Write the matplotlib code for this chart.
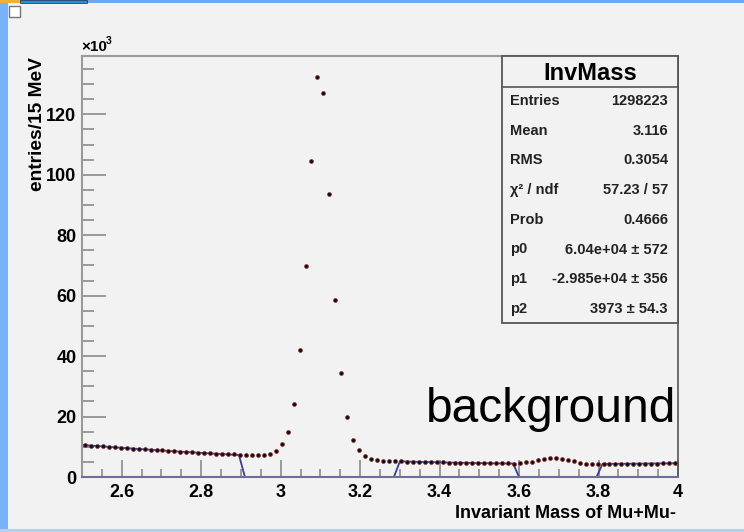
import matplotlib
matplotlib.use('Agg')
import matplotlib.pyplot as plt
import matplotlib.patches as patches
from matplotlib.ticker import MultipleLocator, FormatStrFormatter

plt.rcParams['font.family'] = ['Liberation Sans', 'DejaVu Sans']

W, H = 744, 532

# invariant mass histogram, 15 MeV bins from 2.5 to 4.0, entries in thousands
bin_lo = 2.5
bin_w = 0.015
counts_k = [
    10.55, 10.42, 10.21, 10.12, 9.93, 9.84, 9.66, 9.55, 9.38, 9.30,
    9.12, 9.03, 8.86, 8.79, 8.62, 8.55, 8.38, 8.31, 8.16, 8.09,
    7.94, 7.88, 7.74, 7.68, 7.55, 7.49, 7.40, 7.25, 7.22, 7.24,
    7.30, 7.60, 8.70, 10.8, 14.9, 24.3, 41.9, 69.9, 104.6, 132.4,
    127.2, 93.8, 58.7, 34.4, 20.0, 12.4, 8.8, 6.9, 6.0, 5.6,
    5.4, 5.3, 5.22, 5.15, 5.09, 5.06, 4.98, 4.95, 4.88, 4.86,
    4.80, 4.78, 4.72, 4.71, 4.66, 4.64, 4.60, 4.58, 4.54, 4.53,
    4.49, 4.49, 4.46, 4.60, 4.85, 5.10, 5.60, 6.00, 6.30, 6.35,
    6.10, 5.60, 5.20, 4.70, 4.35, 4.15, 4.15, 4.35, 4.35, 4.37,
    4.36, 4.39, 4.39, 4.42, 4.42, 4.45, 4.46, 4.49, 4.51, 4.54,
]
bin_centers = [bin_lo + bin_w * (i + 0.5) for i in range(len(counts_k))]

# pol2 background fit as drawn (zero inside the excluded windows)
fit_x = [2.5, 2.6, 2.7, 2.8, 2.895, 2.91, 3.285, 3.3, 3.4, 3.5, 3.585,
         3.6, 3.795, 3.81, 3.9, 4.0]
fit_y = [10.6, 9.65, 8.77, 7.97, 7.28, 0, 0, 5.16, 4.84, 4.60, 4.45,
         0, 0, 4.34, 4.41, 4.57]

stat_names = ['Entries', 'Mean', 'RMS', 'χ² / ndf', 'Prob', 'p0', 'p1', 'p2']
stat_values = ['1298223', '3.116', '0.3054', '57.23 / 57', '0.4666',
               '6.04e+04 ± 572', '-2.985e+04 ± 356', '3973 ± 54.3']

BG = '#f2f2f2'
AXIS = '#8a8a8a'
FIT = '#3c3c9c'

fig = plt.figure(figsize=(W / 100, H / 100), dpi=100)
fig.patch.set_facecolor(BG)


def fx(px):
    return px / W


def fy(py):
    return 1 - py / H


# window decorations
fig.patches.append(patches.Rectangle((0, 0), fx(8), 1, transform=fig.transFigure,
                                     facecolor='#78b2f8', edgecolor='none'))
fig.patches.append(patches.Rectangle((0, fy(3)), 1, 3 / H, transform=fig.transFigure,
                                     facecolor='#6fa6f0', edgecolor='none'))
fig.patches.append(patches.Rectangle((0, fy(3)), fx(20), 3 / H, transform=fig.transFigure,
                                     facecolor='#f0b030', edgecolor='none'))
fig.patches.append(patches.Rectangle((fx(20), fy(3)), fx(67), 3 / H, transform=fig.transFigure,
                                     facecolor='#2a8fd0', edgecolor='#1a3050', lw=0.5))
fig.patches.append(patches.Rectangle((0, 0), 1, 3 / H, transform=fig.transFigure,
                                     facecolor='#b4cff0', edgecolor='none'))
fig.patches.append(patches.Rectangle((fx(9), fy(17)), fx(11), 11 / H, transform=fig.transFigure,
                                     facecolor='white', edgecolor='#777777', lw=1))

ax = fig.add_axes([fx(82), fy(477), fx(678 - 82), (477 - 56) / H])
ax.set_facecolor(BG)

ax.plot(fit_x, fit_y, color=FIT, lw=1.3, zorder=2)
ax.plot(bin_centers, counts_k, linestyle='none', marker='o', ms=2.8,
        mfc='#140c0c', mec='#8a3030', mew=0.5, zorder=3)

ax.set_xlim(2.5, 4.0)
ax.set_ylim(0, 139.3)
ax.xaxis.set_major_locator(MultipleLocator(0.2))
ax.xaxis.set_minor_locator(MultipleLocator(0.05))
ax.yaxis.set_major_locator(MultipleLocator(20))
ax.yaxis.set_minor_locator(MultipleLocator(5))
ax.xaxis.set_major_formatter(FormatStrFormatter('%g'))
ax.yaxis.set_major_formatter(FormatStrFormatter('%g'))
ax.tick_params(which='both', direction='in', color=AXIS, width=1.2,
               top=False, right=False)
ax.tick_params(axis='x', which='major', length=12, pad=5)
ax.tick_params(axis='x', which='minor', length=6)
ax.tick_params(axis='y', which='major', length=17, pad=4)
ax.tick_params(axis='y', which='minor', length=8.5)
# drop the 2.5 label at the left edge
ax.set_xticks([2.6, 2.8, 3.0, 3.2, 3.4, 3.6, 3.8, 4.0])
for lab in ax.get_xticklabels() + ax.get_yticklabels():
    lab.set_fontsize(13)
    lab.set_fontweight('bold')

for side in ['left', 'top']:
    ax.spines[side].set_color('#9a9a9a')
    ax.spines[side].set_linewidth(1.5)
ax.spines['bottom'].set_color('#6e6e98')
ax.spines['bottom'].set_linewidth(1.5)
ax.spines['right'].set_color('#555555')
ax.spines['right'].set_linewidth(1.2)

# exponent marker, split so the superscript sits clear of the "10"
fig.text(fx(81), fy(47), '×10', fontsize=11, fontweight='bold',
         ha='left', va='center')
fig.text(fx(106), fy(41), '3', fontsize=7.5, fontweight='bold',
         ha='left', va='center')
fig.text(fx(37), fy(57), 'entries/15 MeV', rotation=90, fontsize=13.8,
         fontweight='bold', ha='center', va='top')
fig.text(fx(676), fy(513), 'Invariant Mass of Mu+Mu-', fontsize=13,
         fontweight='bold', ha='right', va='center')

# stats box
fig.patches.append(patches.Rectangle((fx(502), fy(323)), fx(176), (323 - 56) / H,
                                     transform=fig.transFigure, facecolor=BG,
                                     edgecolor='#555555', lw=1.3, zorder=5))
fig.lines.append(plt.Line2D([fx(502), fx(678)], [fy(87), fy(87)],
                            transform=fig.transFigure, color='#555555', lw=1.2, zorder=6))
fig.text(fx(590), fy(74), 'InvMass', fontsize=17, fontweight='bold',
         ha='center', va='center', zorder=7)
for i, (name, val) in enumerate(zip(stat_names, stat_values)):
    yy = 101 + i * 29.7
    fig.text(fx(510), fy(yy), name, fontsize=10.5, fontweight='bold',
             ha='left', va='center', zorder=7, color='#222222')
    fig.text(fx(668), fy(yy), val, fontsize=10.5, fontweight='bold',
             ha='right', va='center', zorder=7, color='#222222')

fig.text(fx(676), fy(410), 'background', fontsize=34.5, ha='right',
         va='center', color='black')

fig.savefig('out.png', dpi=100, facecolor=BG)
